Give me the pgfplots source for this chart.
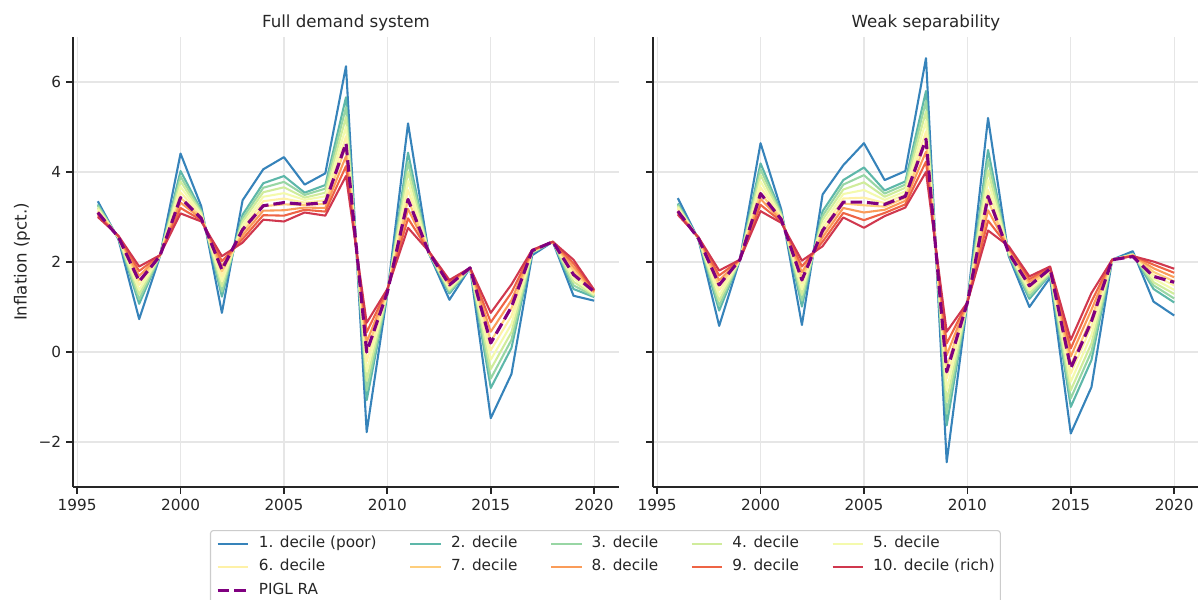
\documentclass[border=0pt]{standalone}
\usepackage{pgfplots}
\pgfplotsset{compat=1.18}
\usepackage{pgfplotstable}
\usepackage{fontspec}
\setmainfont{DejaVu Sans}
\definecolor{txt}{HTML}{262626}
\definecolor{gridc}{HTML}{E6E6E6}
\definecolor{c1}{HTML}{3683BA}
\definecolor{c2}{HTML}{5DB7A9}
\definecolor{c3}{HTML}{98D6A4}
\definecolor{c4}{HTML}{D0EC9C}
\definecolor{c5}{HTML}{F4FAAD}
\definecolor{c6}{HTML}{FEF1A7}
\definecolor{c7}{HTML}{FECE7C}
\definecolor{c8}{HTML}{FA9C59}
\definecolor{c9}{HTML}{EE6445}
\definecolor{c10}{HTML}{D0384E}
\definecolor{piglc}{HTML}{800080}

\pgfplotstableread{
year d1 d2 d3 d4 d5 d6 d7 d8 d9 d10 P
1996 3.35 3.28 3.25 3.21 3.18 3.14 3.11 3.07 3.04 3.00 3.10
1997 2.50 2.52 2.53 2.54 2.54 2.55 2.56 2.57 2.57 2.58 2.55
1998 0.73 1.07 1.17 1.28 1.38 1.49 1.59 1.69 1.80 1.90 1.57
1999 2.12 2.13 2.13 2.14 2.14 2.14 2.14 2.15 2.15 2.15 2.13
2000 4.41 4.02 3.90 3.79 3.67 3.55 3.43 3.32 3.20 3.08 3.43
2001 3.24 3.15 3.12 3.09 3.06 3.03 2.99 2.96 2.93 2.90 2.97
2002 0.87 1.23 1.34 1.46 1.57 1.68 1.79 1.91 2.02 2.13 1.83
2003 3.37 3.05 2.97 2.90 2.82 2.74 2.66 2.59 2.51 2.43 2.72
2004 4.06 3.75 3.65 3.55 3.45 3.35 3.24 3.14 3.04 2.94 3.25
2005 4.33 3.91 3.78 3.66 3.53 3.41 3.28 3.15 3.03 2.90 3.32
2006 3.72 3.54 3.49 3.43 3.38 3.32 3.27 3.21 3.16 3.10 3.28
2007 3.97 3.71 3.63 3.54 3.46 3.37 3.29 3.20 3.12 3.03 3.32
2008 6.35 5.66 5.44 5.22 5.00 4.79 4.57 4.35 4.13 3.91 4.64
2009 -1.78 -1.07 -0.86 -0.64 -0.43 -0.21 0.01 0.22 0.44 0.65 0.00
2010 1.30 1.30 1.31 1.33 1.34 1.35 1.36 1.38 1.39 1.40 1.33
2011 5.08 4.43 4.22 4.01 3.80 3.60 3.39 3.18 2.97 2.76 3.39
2012 2.20 2.20 2.21 2.21 2.22 2.22 2.23 2.23 2.24 2.24 2.22
2013 1.16 1.30 1.34 1.38 1.41 1.45 1.49 1.53 1.56 1.60 1.49
2014 1.87 1.87 1.87 1.87 1.87 1.87 1.87 1.87 1.87 1.87 1.87
2015 -1.47 -0.80 -0.59 -0.38 -0.17 0.04 0.24 0.45 0.66 0.87 0.20
2016 -0.49 0.09 0.27 0.44 0.62 0.80 0.97 1.15 1.32 1.50 1.00
2017 2.15 2.20 2.21 2.22 2.23 2.24 2.24 2.25 2.26 2.27 2.25
2018 2.45 2.45 2.45 2.45 2.45 2.45 2.45 2.45 2.45 2.45 2.45
2019 1.25 1.40 1.48 1.56 1.64 1.73 1.81 1.89 1.97 2.05 1.72
2020 1.14 1.22 1.24 1.26 1.28 1.30 1.32 1.34 1.36 1.38 1.34
}\fulltab

\pgfplotstableread{
year d1 d2 d3 d4 d5 d6 d7 d8 d9 d10 P
1996 3.42 3.30 3.27 3.24 3.21 3.18 3.14 3.11 3.08 3.05 3.13
1997 2.50 2.50 2.51 2.51 2.52 2.53 2.53 2.54 2.54 2.55 2.52
1998 0.58 0.92 1.03 1.14 1.25 1.37 1.48 1.59 1.70 1.81 1.49
1999 2.05 2.05 2.05 2.05 2.05 2.05 2.05 2.05 2.05 2.05 2.05
2000 4.64 4.19 4.06 3.93 3.79 3.66 3.53 3.40 3.27 3.13 3.52
2001 3.17 3.10 3.07 3.04 3.01 2.99 2.96 2.93 2.90 2.87 2.95
2002 0.60 1.01 1.14 1.27 1.39 1.52 1.65 1.77 1.90 2.03 1.60
2003 3.50 3.13 3.03 2.94 2.84 2.74 2.64 2.55 2.45 2.35 2.70
2004 4.15 3.82 3.72 3.61 3.51 3.41 3.30 3.20 3.09 2.99 3.33
2005 4.64 4.10 3.93 3.77 3.60 3.43 3.26 3.10 2.93 2.76 3.33
2006 3.82 3.59 3.52 3.45 3.38 3.31 3.23 3.16 3.09 3.02 3.28
2007 4.02 3.79 3.72 3.65 3.57 3.50 3.43 3.36 3.28 3.21 3.46
2008 6.53 5.80 5.58 5.35 5.13 4.90 4.68 4.45 4.23 4.00 4.73
2009 -2.45 -1.63 -1.37 -1.11 -0.85 -0.59 -0.33 -0.07 0.19 0.45 -0.44
2010 1.10 1.10 1.10 1.10 1.10 1.10 1.10 1.10 1.10 1.10 1.10
2011 5.20 4.49 4.27 4.04 3.82 3.60 3.37 3.15 2.92 2.70 3.46
2012 2.13 2.15 2.18 2.20 2.23 2.25 2.28 2.30 2.33 2.35 2.20
2013 1.00 1.18 1.24 1.31 1.37 1.43 1.49 1.56 1.62 1.68 1.47
2014 1.65 1.72 1.74 1.77 1.79 1.81 1.83 1.86 1.88 1.90 1.85
2015 -1.81 -1.22 -1.03 -0.85 -0.66 -0.48 -0.29 -0.10 0.08 0.27 -0.36
2016 -0.78 -0.18 0.01 0.19 0.38 0.57 0.75 0.94 1.12 1.31 0.68
2017 2.05 2.05 2.05 2.05 2.05 2.05 2.05 2.05 2.05 2.05 2.05
2018 2.24 2.18 2.17 2.17 2.16 2.16 2.15 2.14 2.14 2.13 2.12
2019 1.12 1.40 1.48 1.55 1.63 1.71 1.78 1.86 1.94 2.01 1.68
2020 0.81 1.10 1.19 1.29 1.38 1.48 1.57 1.66 1.76 1.85 1.55
}\weaktab

\pgfplotsset{
  panel/.style={
    scale only axis,
    width=393.12pt, height=324pt,
    anchor=south west,
    xmin=1994.8, xmax=2021.2,
    ymin=-3, ymax=7,
    axis x line*=bottom, axis y line*=left,
    axis line style={line width=1.25pt, color=txt},
    xtick={1995,2000,2005,2010,2015,2020},
    xticklabels={1995,2000,2005,2010,2015,2020},
    ytick={-2,0,2,4,6},
    tick align=outside,
    major tick length=5pt,
    tick style={line width=1.25pt, color=txt},
    grid=major,
    grid style={gridc, line width=0.9pt},
    ticklabel style={font=\fontsize{11pt}{13pt}\selectfont, text=txt},
    title style={at={(0.5,1)}, anchor=base, yshift=1pt, font=\fontsize{12pt}{14pt}\selectfont, text=txt},
    every axis plot/.append style={line width=1.5pt, line join=round},
  },
  piglline/.style={piglc, line width=2.25pt, dash pattern=on 8.3pt off 3.6pt},
}

\begin{document}
\begin{tikzpicture}
\path[use as bounding box, clip] (0,0) rectangle (862.56pt,431.28pt);
\begin{axis}[panel,
  at={(52.56pt,80.64pt)},
  title={Full demand system},
  yticklabels={−2,0,2,4,6},
  ylabel={Inflation (pct.)},
  ylabel style={at={(axis description cs:-0.0934,0.5)}, anchor=center, font=\fontsize{12pt}{14pt}\selectfont, text=txt},
  legend columns=5,
  legend cell align=left,
  legend image code/.code={\draw[#1] (0pt,0pt) -- (22pt,0pt);},
  legend style={at={(0.2509,-0.0956)}, anchor=north west,
    draw=black!20, line width=0.8pt, rounded corners=2pt, fill=white,
    font=\fontsize{11pt}{13pt}\selectfont, text=txt,
    inner xsep=4pt, inner ysep=4.5pt,
    nodes={inner sep=0pt, text height=8pt, text depth=2.5pt},
    row sep=6.1pt,
    /tikz/every odd column/.append style={column sep=6.5pt},
    /tikz/every even column/.append style={column sep=23.5pt}},
]
\addplot[c1] table[x=year,y=d1] {\fulltab}; \addlegendentry{1. decile (poor)}
\addplot[c2] table[x=year,y=d2] {\fulltab}; \addlegendentry{2. decile}
\addplot[c3] table[x=year,y=d3] {\fulltab}; \addlegendentry{3. decile}
\addplot[c4] table[x=year,y=d4] {\fulltab}; \addlegendentry{4. decile}
\addplot[c5] table[x=year,y=d5] {\fulltab}; \addlegendentry{5. decile}
\addplot[c6] table[x=year,y=d6] {\fulltab}; \addlegendentry{6. decile}
\addplot[c7] table[x=year,y=d7] {\fulltab}; \addlegendentry{7. decile}
\addplot[c8] table[x=year,y=d8] {\fulltab}; \addlegendentry{8. decile}
\addplot[c9] table[x=year,y=d9] {\fulltab}; \addlegendentry{9. decile}
\addplot[c10] table[x=year,y=d10] {\fulltab}; \addlegendentry{10. decile (rich)}
\addplot[piglline] table[x=year,y=P] {\fulltab}; \addlegendentry{PIGL RA}
\end{axis}
\begin{axis}[panel,
  at={(470.16pt,80.64pt)},
  title={Weak separability},
  yticklabels={},
]
\addplot[c1] table[x=year,y=d1] {\weaktab};
\addplot[c2] table[x=year,y=d2] {\weaktab};
\addplot[c3] table[x=year,y=d3] {\weaktab};
\addplot[c4] table[x=year,y=d4] {\weaktab};
\addplot[c5] table[x=year,y=d5] {\weaktab};
\addplot[c6] table[x=year,y=d6] {\weaktab};
\addplot[c7] table[x=year,y=d7] {\weaktab};
\addplot[c8] table[x=year,y=d8] {\weaktab};
\addplot[c9] table[x=year,y=d9] {\weaktab};
\addplot[c10] table[x=year,y=d10] {\weaktab};
\addplot[piglline] table[x=year,y=P] {\weaktab};
\end{axis}
\end{tikzpicture}
\end{document}
